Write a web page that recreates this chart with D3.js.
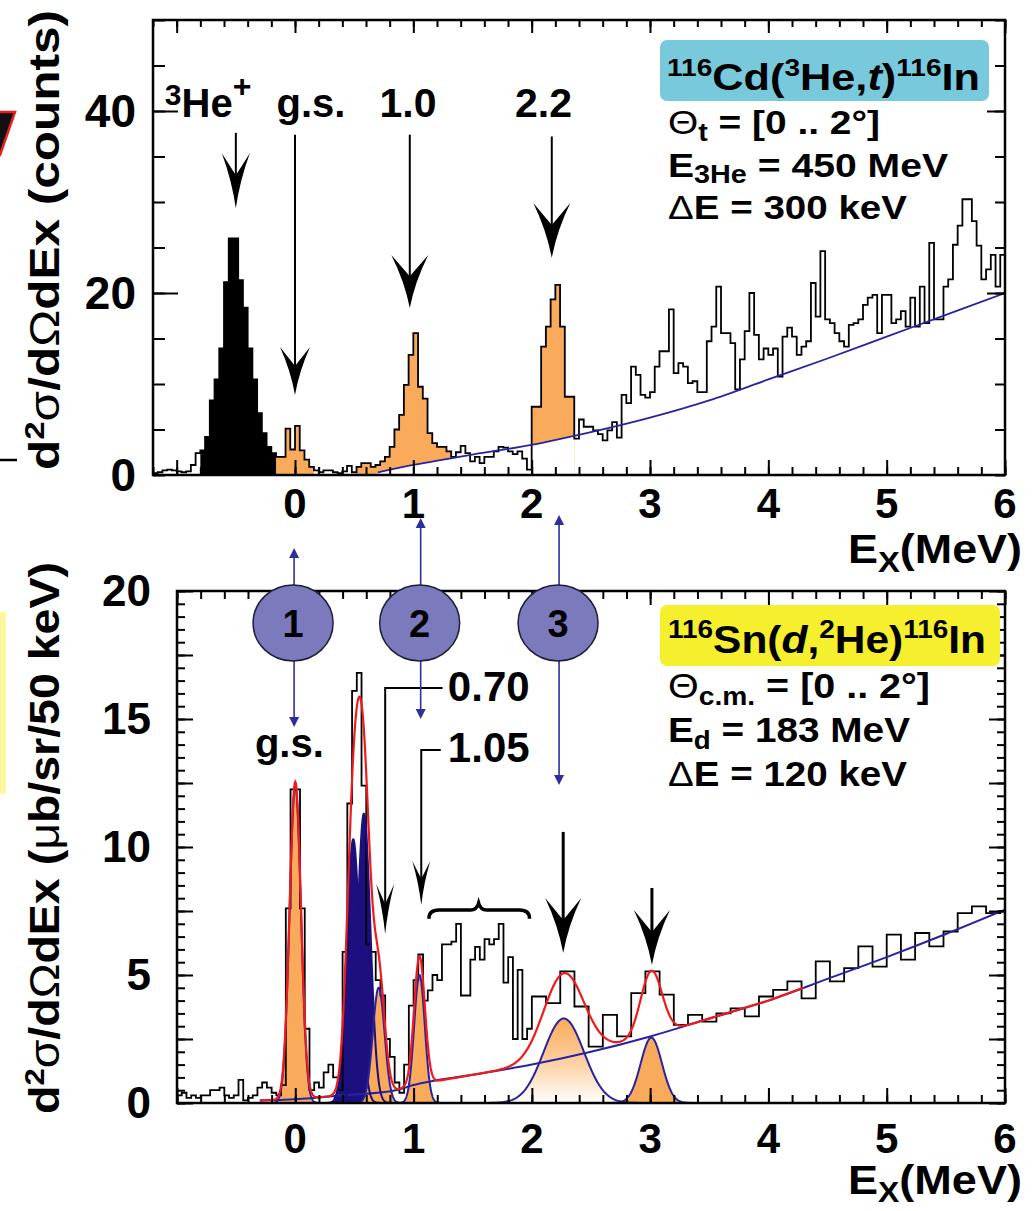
<!DOCTYPE html>
<html lang="en">
<head>
<meta charset="UTF-8">
<title>116In Gamow-Teller spectra</title>
<script src="https://d3js.org/d3.v7.min.js"></script>
<style>
  body { margin: 0; background: #fff; }
  svg text { font-family: "Liberation Sans", Arial, Helvetica, sans-serif; font-weight: bold; fill: #000; }
</style>
</head>
<body>
<svg id="chart" width="1034" height="1211"></svg>
<script>
// ---------- data ----------
// top panel: 116Cd(3He,t), 40 keV bins from -1.2 MeV
const topBinStart = -1.2, topBinWidth = 0.04;
const topCounts = [
  0.2, 0.3, 0.5, 0.6, 0.5, 0.4, 0.3, 0.4, 1.1, 2.4,
  2.7, 4.2, 8.2, 10.5, 13.9, 21.2, 26.0, 26.0, 21.4, 18.4,
  13.9, 10.5, 6.8, 4.6, 3.1, 2.4, 2.0, 2.0, 5.1, 2.8,
  5.4, 2.7, 1.7, 0.9, 0.5, 0.3, 0.5, 0.5, 0.3, 0.2,
  0.4, 1.0, 0.3, 0.9, 1.3, 1.3, 0.9, 1.1, 1.5, 2.0,
  3.1, 5.0, 6.6, 9.9, 13.2, 15.6, 9.7, 8.4, 4.6, 3.5,
  3.1, 3.1, 2.6, 2.0, 2.5, 3.2, 2.4, 1.5, 2.0, 1.3,
  2.0, 2.0, 2.6, 3.1, 3.0, 2.6, 2.3, 2.6, 1.8, 0.6,
  7.5, 7.5, 14.1, 16.3, 19.3, 20.9, 16.3, 8.6, 8.6, 4.0,
  6.1, 5.3, 5.3, 4.9, 4.5, 3.8, 4.9, 5.8, 4.1, 8.8,
  7.9, 11.9, 11.0, 8.8, 8.5, 9.1, 11.9, 13.6, 13.6, 18.2,
  11.2, 12.3, 11.9, 10.1, 10.3, 9.1, 9.1, 14.7, 16.3, 20.7,
  15.6, 15.6, 14.5, 9.4, 12.7, 15.8, 20.0, 15.4, 12.7, 13.9,
  13.2, 13.9, 10.8, 15.2, 16.2, 15.2, 13.2, 14.1, 14.7, 21.1,
  17.4, 24.6, 17.1, 16.7, 15.6, 14.7, 14.1, 16.5, 16.7, 17.1,
  18.7, 19.5, 19.8, 15.6, 19.8, 19.8, 16.7, 17.1, 18.0, 16.3,
  19.5, 16.3, 20.7, 16.7, 25.5, 17.1, 17.1, 20.7, 21.5, 25.3,
  27.4, 30.3, 30.3, 27.9, 25.2, 21.5, 22.6, 24.2, 20.7, 24.2
];
const topBlackBins = [[10, 25]];
const topOrangeBins = [[26, 33], [43, 63], [80, 88]];
const topBgE = [0.7, 1.0, 1.5, 2.0, 2.5, 3.0, 3.5, 4.0, 4.5, 5.0, 5.5, 6.0];
const topBgC = [0.3, 1.1, 2.25, 3.3, 4.7, 6.3, 8.2, 10.5, 12.8, 15.2, 17.6, 20.0];

// bottom panel: 116Sn(d,2He), fine bins up to 2 MeV, coarse bins above
const botFineStart = -1.0, botFineWidth = 0.04;
const botFineCounts = [
  0.3, 0.4, 0.2, 0.3, 0.2, 0.3, 0.3, 0.5, 0.5, 0.6,
  0.3, 0.2, 0.3, 0.9, 0.1, 0.2, 0.3, 0.6, 0.8, 0.6,
  0.4, 0.3, 0.7, 7.6, 12.25, 12.25, 7.6, 2.9, 0.5, 0.8,
  0.6, 1.2, 1.5, 1.0, 0.5, 5.9, 11.7, 16.1, 16.8, 12.4,
  6.2, 5.9, 4.8, 4.2, 2.5, 1.8, 0.8, 0.4, 1.5, 3.8,
  4.8, 5.8, 4.0, 4.4, 5.0, 4.8, 6.2, 6.2, 6.3, 7.0,
  4.2, 4.2, 5.6, 6.1, 5.6, 6.4, 6.2, 6.4, 7.0, 4.7,
  5.7, 2.5, 5.2, 2.5, 2.9
];
const botCoarseStart = 2.0, botCoarseWidth = 0.12;
const botCoarseCounts = [
  4.16, 3.9, 5.14, 3.77, 2.2, 3.44, 2.6, 4.29, 5.14, 4.23,
  3.05, 3.44, 3.18, 3.5, 3.7, 3.38, 4.16, 4.42, 4.75, 4.09,
  5.53, 4.75, 5.27, 6.12, 5.33, 6.58, 5.6, 6.64, 6.12, 6.7,
  7.42, 7.68, 7.42, 7.5
];
const botBgE = [-0.3, 0.0, 0.4, 0.85, 1.0, 1.5, 2.0, 2.5, 3.0, 3.5, 4.0, 4.5, 5.0, 5.5, 6.0];
const botBgC = [0.1, 0.15, 0.3, 0.5, 0.7, 1.1, 1.5, 2.0, 2.6, 3.3, 4.0, 4.85, 5.7, 6.6, 7.55];

// fitted peaks (centre MeV, height, sigma MeV)
const peakKind = ["orange", "navy", "navy", "orange", "orange", "fade", "orange"];
const peakE = [0.0, 0.49, 0.58, 0.705, 1.05, 2.27, 3.01];
const peakH = [12.4, 10.3, 11.3, 4.5, 5.0, 3.3, 2.55];
const peakSigma = [0.048, 0.055, 0.055, 0.05, 0.045, 0.17, 0.09];
const redRange = [-0.3, 4.3];

const xTickLabels = [0, 1, 2, 3, 4, 5, 6];
const topYTickLabels = [0, 20, 40];
const botYTickLabels = [0, 5, 10, 15, 20];

// annotations
const topMarkE = [-0.5, 0.0, 0.97, 2.17];
const topMarkTop = [37.6, 37.4, 37.4, 37.2];
const topMarkTip = [29.3, 8.8, 18.35, 23.85];
const circleE = [-0.01, 1.06, 2.23];
const circleNames = ["1", "2", "3"];
const circleArrowTop = [21.68, 22.85, 22.97];
const circleArrowBottom = [14.69, 15.0, 12.42];
const bigArrowE = [2.265, 3.015];
const bigArrowTop = [10.59, 8.4];
const bigArrowTip = [5.86, 5.39];

// ---------- scales ----------
const svg = d3.select("#chart");
const xTop = d3.scaleLinear().domain([-1.2, 6]).range([153, 1005]);
const yTop = d3.scaleLinear().domain([0, 50]).range([475, 20]);
const xBot = d3.scaleLinear().domain([-1, 6]).range([177, 1005]);
const yBot = d3.scaleLinear().domain([0, 20]).range([1103, 591]);
const topBg = d3.scaleLinear().domain(topBgE).range(topBgC).clamp(true);
const botBg = d3.scaleLinear().domain(botBgE).range(botBgC).clamp(true);

const ORANGE = "#f9aa5a", NAVY = "#1c0f7e", BLUE = "#2a23a0", RED = "#f01a1a";

const defs = svg.append("defs");
defs.append("clipPath").attr("id", "clipTop").append("rect")
  .attr("x", 153).attr("y", 20).attr("width", 852).attr("height", 455);
defs.append("clipPath").attr("id", "clipBot").append("rect")
  .attr("x", 177).attr("y", 591).attr("width", 828).attr("height", 512);
const grad = defs.append("linearGradient").attr("id", "fade")
  .attr("x1", 0).attr("y1", 0).attr("x2", 0).attr("y2", 1);
grad.append("stop").attr("offset", "0%").attr("stop-color", ORANGE);
grad.append("stop").attr("offset", "55%").attr("stop-color", "#fcd3a6");
grad.append("stop").attr("offset", "100%").attr("stop-color", "#ffffff");

function stepPoints(start, width, counts, a, b) {
  const pts = [];
  for (let i = a; i <= b; i++) pts.push([start + i * width, counts[i]]);
  pts.push([start + (b + 1) * width, counts[b]]);
  return pts;
}

// ---------- left edge leftovers of the cropped figure ----------
svg.append("path").attr("d", "M-4,112 L15,112 L0,155 L-4,155 Z")
  .attr("fill", "#111").attr("stroke", "#e8201c").attr("stroke-width", 2.5);
svg.append("line").attr("x1", 0).attr("x2", 17).attr("y1", 460).attr("y2", 460)
  .attr("stroke", "#000").attr("stroke-width", 2.5);
svg.append("rect").attr("x", 0).attr("y", 612).attr("width", 6).attr("height", 182)
  .attr("fill", "#fbf8a0");

// ================= TOP PANEL =================
const gTop = svg.append("g").attr("clip-path", "url(#clipTop)");
const topArea = d3.area().x(d => xTop(d[0])).y0(yTop(0)).y1(d => yTop(d[1])).curve(d3.curveStepAfter);
const topLine = d3.line().x(d => xTop(d[0])).y(d => yTop(d[1])).curve(d3.curveStepAfter);

topOrangeBins.forEach(([a, b]) => {
  gTop.append("path").attr("d", topArea(stepPoints(topBinStart, topBinWidth, topCounts, a, b)))
    .attr("fill", ORANGE);
});
topBlackBins.forEach(([a, b]) => {
  gTop.append("path").attr("d", topArea(stepPoints(topBinStart, topBinWidth, topCounts, a, b)))
    .attr("fill", "#000");
});
// white under the background curve inside the orange ranges
const bgPts = topBgE.map((e, i) => [e, topBgC[i]]);
topOrangeBins.forEach(([a, b]) => {
  const e0 = Math.max(topBinStart + a * topBinWidth, topBgE[0]);
  const e1 = topBinStart + (b + 1) * topBinWidth;
  if (e1 <= e0) return;
  const pts = d3.range(e0, e1 + 1e-9, 0.01).map(e => [e, topBg(e)]);
  gTop.append("path")
    .attr("d", d3.area().x(d => xTop(d[0])).y0(yTop(0) + 2).y1(d => yTop(d[1]))(pts))
    .attr("fill", "#fff");
});
gTop.append("path").attr("d", topLine(stepPoints(topBinStart, topBinWidth, topCounts, 0, topCounts.length - 1)))
  .attr("fill", "none").attr("stroke", "#000").attr("stroke-width", 1.8);
gTop.append("path")
  .attr("d", d3.line().x(d => xTop(d[0])).y(d => yTop(d[1])).curve(d3.curveMonotoneX)(bgPts))
  .attr("fill", "none").attr("stroke", BLUE).attr("stroke-width", 1.8);

// ================= BOTTOM PANEL =================
const gBot = svg.append("g").attr("clip-path", "url(#clipBot)");
function gaussPts(k) {
  const s = peakSigma[k];
  return d3.range(peakE[k] - 4 * s, peakE[k] + 4 * s + 1e-9, s / 25)
    .map(e => [e, peakH[k] * Math.exp(-0.5 * ((e - peakE[k]) / s) ** 2)]);
}
const botArea = d3.area().x(d => xBot(d[0])).y0(yBot(0)).y1(d => yBot(d[1]));
const botCurve = d3.line().x(d => xBot(d[0])).y(d => yBot(d[1]));

// navy multiplet first, orange peaks drawn over it
const fillOrder = d3.range(peakE.length).sort((a, b) => (peakKind[b] === "navy") - (peakKind[a] === "navy"));
fillOrder.forEach(k => {
  const fill = peakKind[k] === "navy" ? NAVY : peakKind[k] === "fade" ? "url(#fade)" : ORANGE;
  gBot.append("path").attr("d", botArea(gaussPts(k))).attr("fill", fill);
});

const botPts = stepPoints(botFineStart, botFineWidth, botFineCounts, 0, botFineCounts.length - 1).slice(0, -1)
  .concat(stepPoints(botCoarseStart, botCoarseWidth, botCoarseCounts, 0, botCoarseCounts.length - 1));
gBot.append("path")
  .attr("d", d3.line().x(d => xBot(d[0])).y(d => yBot(d[1])).curve(d3.curveStepAfter)(botPts))
  .attr("fill", "none").attr("stroke", "#000").attr("stroke-width", 1.8);

gBot.append("path")
  .attr("d", botCurve.curve(d3.curveMonotoneX)(botBgE.map((e, i) => [e, botBgC[i]])))
  .attr("fill", "none").attr("stroke", BLUE).attr("stroke-width", 2);
botCurve.curve(d3.curveLinear);
fillOrder.forEach(k => {
  gBot.append("path").attr("d", botCurve(gaussPts(k)))
    .attr("fill", "none").attr("stroke", peakKind[k] === "navy" ? NAVY : BLUE).attr("stroke-width", 2);
});
const redPts = d3.range(redRange[0], redRange[1], 0.004).map(e => {
  let v = botBg(e);
  peakE.forEach((c, k) => { v += peakH[k] * Math.exp(-0.5 * ((e - c) / peakSigma[k]) ** 2); });
  return [e, v];
});
gBot.append("path").attr("d", botCurve(redPts))
  .attr("fill", "none").attr("stroke", RED).attr("stroke-width", 2.2);

// ---------- frames and ticks ----------
function ticks(axisFn, scale, values, size, transform) {
  svg.append("g").attr("transform", transform)
    .call(axisFn(scale).tickValues(values).tickSize(size).tickFormat(""))
    .call(a => a.select(".domain").remove())
    .selectAll("line").attr("stroke", "#000").attr("stroke-width", 2);
}
const xMinorTop = d3.range(-1.2, 6.001, 0.2), xMinorBot = d3.range(-1, 6.001, 0.2);
const xMajor = d3.range(-1, 6.001, 1);
// top panel
ticks(d3.axisBottom, xTop, xMinorTop, -8, "translate(0,475)");
ticks(d3.axisBottom, xTop, xMajor, -15, "translate(0,475)");
ticks(d3.axisTop, xTop, xMinorTop, -7, "translate(0,20)");
ticks(d3.axisTop, xTop, xMajor, -13, "translate(0,20)");
ticks(d3.axisLeft, yTop, d3.range(0, 50.1, 5), -12, "translate(153,0)");
ticks(d3.axisLeft, yTop, [20, 40], -25, "translate(153,0)");
ticks(d3.axisRight, yTop, d3.range(0, 50.1, 5), -10, "translate(1005,0)");
ticks(d3.axisRight, yTop, [20, 40], -18, "translate(1005,0)");
// bottom panel
ticks(d3.axisBottom, xBot, xMinorBot, -8, "translate(0,1103)");
ticks(d3.axisBottom, xBot, xMajor, -15, "translate(0,1103)");
ticks(d3.axisTop, xBot, xMinorBot, -8, "translate(0,591)");
ticks(d3.axisTop, xBot, xMajor, -14, "translate(0,591)");
ticks(d3.axisLeft, yBot, d3.range(0, 20.01, 0.5), -8, "translate(177,0)");
ticks(d3.axisLeft, yBot, d3.range(0, 20.01, 2.5), -16, "translate(177,0)");
ticks(d3.axisRight, yBot, d3.range(0, 20.01, 0.5), -8, "translate(1005,0)");
ticks(d3.axisRight, yBot, d3.range(0, 20.01, 2.5), -16, "translate(1005,0)");

svg.append("rect").attr("x", 153).attr("y", 20).attr("width", 852).attr("height", 455)
  .attr("fill", "none").attr("stroke", "#000").attr("stroke-width", 2.5);
svg.append("rect").attr("x", 177).attr("y", 591).attr("width", 828).attr("height", 512)
  .attr("fill", "none").attr("stroke", "#000").attr("stroke-width", 2.5);

// ---------- tick labels ----------
xTickLabels.forEach(v => {
  svg.append("text").attr("x", xTop(v)).attr("y", 518).attr("font-size", 42)
    .attr("text-anchor", "middle").text(v);
  svg.append("text").attr("x", xBot(v)).attr("y", 1153).attr("font-size", 42)
    .attr("text-anchor", "middle").text(v);
});
topYTickLabels.forEach(v => {
  svg.append("text").attr("x", 136).attr("y", yTop(v) + 16).attr("font-size", 46)
    .attr("text-anchor", "end").text(v);
});
botYTickLabels.forEach(v => {
  svg.append("text").attr("x", 151).attr("y", yBot(v) + 15).attr("font-size", 44)
    .attr("text-anchor", "end").text(v);
});

// ---------- rich text helper ----------
function rich(parent, x, y, parts, size, anchor, len) {
  const t = parent.append("text").attr("x", x).attr("y", y)
    .attr("font-size", size).attr("text-anchor", anchor || "start");
  parts.forEach(p => {
    const s = t.append("tspan").text(p.t);
    if (p.s) s.attr("font-size", p.s);
    if (p.dy) s.attr("dy", p.dy);
    if (p.w) s.attr("font-weight", p.w);
    if (p.i) s.attr("font-style", "italic");
  });
  if (len) t.attr("textLength", len).attr("lengthAdjust", "spacingAndGlyphs");
  return t;
}

// axis titles
rich(svg, 1022, 563, [{ t: "E" }, { t: "X", s: 30, dy: 9 }, { t: "(MeV)", dy: -9 }], 41, "end", 174);
rich(svg, 1022, 1194, [{ t: "E" }, { t: "X", s: 29, dy: 8 }, { t: "(MeV)", dy: -8 }], 41, "end", 174);
rich(svg.append("g").attr("transform", "translate(59,240) rotate(-90)"), 0, 0,
  [{ t: "d" }, { t: "2", s: 28, dy: -15 }, { t: "σ", w: "normal", dy: 15 }, { t: "/d" },
   { t: "Ω", w: "normal" }, { t: "dEx (counts)" }], 42, "middle", 460);
rich(svg.append("g").attr("transform", "translate(59,838) rotate(-90)"), 0, 0,
  [{ t: "d" }, { t: "2", s: 28, dy: -15 }, { t: "σ", w: "normal", dy: 15 }, { t: "/d" },
   { t: "Ω", w: "normal" }, { t: "dEx (" }, { t: "μ", w: "normal" }, { t: "b/sr/50 keV)" }], 42, "middle", 552);

// ---------- info boxes ----------
svg.append("rect").attr("x", 660).attr("y", 40).attr("width", 329).attr("height", 61).attr("rx", 7)
  .attr("fill", "#79c9dc");
rich(svg, 667, 90, [{ t: "116", s: 24, dy: -14 }, { t: "Cd(", dy: 14 }, { t: "3", s: 24, dy: -14 },
  { t: "He,", dy: 14 }, { t: "t", i: true }, { t: ")" }, { t: "116", s: 24, dy: -14 }, { t: "In", dy: 14 }], 37, "start", 313);
rich(svg, 668, 134, [{ t: "Θ", w: "normal" }, { t: "t", s: 25, dy: 7 }, { t: " = [0 .. 2°]", dy: -7 }], 34, "start", 212);
rich(svg, 668, 177, [{ t: "E" }, { t: "3He", s: 25, dy: 6 }, { t: " = 450 MeV", dy: -6 }], 34, "start", 280);
rich(svg, 668, 219, [{ t: "Δ", w: "normal" }, { t: "E = 300 keV" }], 34, "start", 239);

svg.append("rect").attr("x", 660).attr("y", 605).attr("width", 340).attr("height", 61).attr("rx", 7)
  .attr("fill", "#f5ef2e");
rich(svg, 668, 653, [{ t: "116", s: 25, dy: -15 }, { t: "Sn(", dy: 15 }, { t: "d", i: true }, { t: "," },
  { t: "2", s: 25, dy: -15 }, { t: "He)", dy: 15 }, { t: "116", s: 25, dy: -15 }, { t: "In", dy: 15 }], 38, "start", 318);
rich(svg, 668, 698, [{ t: "Θ", w: "normal" }, { t: "c.m.", s: 25, dy: 7 }, { t: " = [0 .. 2°]", dy: -7 }], 35, "start", 262);
rich(svg, 668, 742, [{ t: "E" }, { t: "d", s: 25, dy: 7 }, { t: " = 183 MeV", dy: -7 }], 35, "start", 242);
rich(svg, 668, 786, [{ t: "Δ", w: "normal" }, { t: "E = 120 keV" }], 35, "start", 239);

// ---------- arrows ----------
function head(g, x, yTip, len, wid, color, up) {
  const d = up ? -1 : 1;
  g.append("path").attr("d",
    `M${x},${yTip} Q${x - wid * 0.14},${yTip - d * len * 0.5} ${x - wid / 2},${yTip - d * len} ` +
    `L${x},${yTip - d * len * 0.6} L${x + wid / 2},${yTip - d * len} ` +
    `Q${x + wid * 0.14},${yTip - d * len * 0.5} ${x},${yTip} Z`).attr("fill", color);
}
function arrowDown(x, y0, y1, len, wid, sw) {
  svg.append("line").attr("x1", x).attr("x2", x).attr("y1", y0).attr("y2", y1 - len * 0.6)
    .attr("stroke", "#000").attr("stroke-width", sw);
  head(svg, x, y1, len, wid, "#000", false);
}
const topHeadLen = [55, 48, 53, 55], topHeadWid = [28, 30, 37, 37];
topMarkE.forEach((e, i) => arrowDown(xTop(e), yTop(topMarkTop[i]), yTop(topMarkTip[i]), topHeadLen[i], topHeadWid[i], 2));

// top labels
rich(svg, xTop(-1.1), 117, [{ t: "3", s: 30, dy: -12 }, { t: "He", dy: 12 }, { t: "+", s: 32, dy: -20 }], 40);
svg.append("text").attr("x", xTop(0.135)).attr("y", 117).attr("font-size", 40).attr("text-anchor", "middle").text("g.s.");
svg.append("text").attr("x", xTop(0.955)).attr("y", 117).attr("font-size", 41).attr("text-anchor", "middle").text("1.0");
svg.append("text").attr("x", xTop(2.1)).attr("y", 117).attr("font-size", 41).attr("text-anchor", "middle").text("2.2");

// bottom leader arrows for 0.70 and 1.05
const x070 = xBot(0.76), x105 = xBot(1.065);
svg.append("path").attr("d", `M${xBot(1.245)},${yBot(16.21)} H${x070} V${yBot(6.6) - 30}`)
  .attr("fill", "none").attr("stroke", "#000").attr("stroke-width", 2);
head(svg, x070, yBot(6.6), 50, 18, "#000", false);
svg.append("path").attr("d", `M${xBot(1.23)},${yBot(13.79)} H${x105} V${yBot(7.73) - 26}`)
  .attr("fill", "none").attr("stroke", "#000").attr("stroke-width", 2);
head(svg, x105, yBot(7.73), 44, 18, "#000", false);
svg.append("text").attr("x", xBot(1.29)).attr("y", 701).attr("font-size", 42).text("0.70");
svg.append("text").attr("x", xBot(1.29)).attr("y", 762).attr("font-size", 42).text("1.05");
svg.append("text").attr("x", xBot(-0.05)).attr("y", 757).attr("font-size", 40).attr("text-anchor", "middle").text("g.s.");

// brace over the unresolved region
const bx0 = xBot(1.13), bx1 = xBot(1.98), bxm = xBot(1.55), byT = yBot(7.73), byB = yBot(7.2);
svg.append("path").attr("d",
  `M${bx0},${byB} Q${bx0},${byT + 5} ${bx0 + 10},${byT + 5} L${bxm - 8},${byT + 5} Q${bxm - 2},${byT + 5} ${bxm},${byT - 2} ` +
  `Q${bxm + 2},${byT + 5} ${bxm + 8},${byT + 5} L${bx1 - 10},${byT + 5} Q${bx1},${byT + 5} ${bx1},${byB}`)
  .attr("fill", "none").attr("stroke", "#000").attr("stroke-width", 3.5);

bigArrowE.forEach((e, i) => arrowDown(xBot(e), yBot(bigArrowTop[i]), yBot(bigArrowTip[i]), 55, 36, 3));

// numbered circles with double arrows
circleE.forEach((e, i) => {
  const x = xBot(e), yT = yBot(circleArrowTop[i]), yB = yBot(circleArrowBottom[i]);
  svg.append("line").attr("x1", x).attr("x2", x).attr("y1", yT + 6).attr("y2", yB - 6)
    .attr("stroke", "#2e2e9e").attr("stroke-width", 1.6);
  svg.append("path").attr("d", `M${x},${yT} L${x - 5},${yT + 10} L${x + 5},${yT + 10} Z`).attr("fill", "#2e2e9e");
  svg.append("path").attr("d", `M${x},${yB} L${x - 5},${yB - 10} L${x + 5},${yB - 10} Z`).attr("fill", "#2e2e9e");
});
circleE.forEach((e, i) => {
  const x = xBot(e) - 1, y = yBot(18.75);
  svg.append("ellipse").attr("cx", x).attr("cy", y).attr("rx", 40).attr("ry", 38)
    .attr("fill", "#7a7abd").attr("stroke", "#1e1e3a").attr("stroke-width", 1.5);
  svg.append("text").attr("x", x).attr("y", y + 14).attr("font-size", 38)
    .attr("text-anchor", "middle").text(circleNames[i]);
});
</script>
</body>
</html>
